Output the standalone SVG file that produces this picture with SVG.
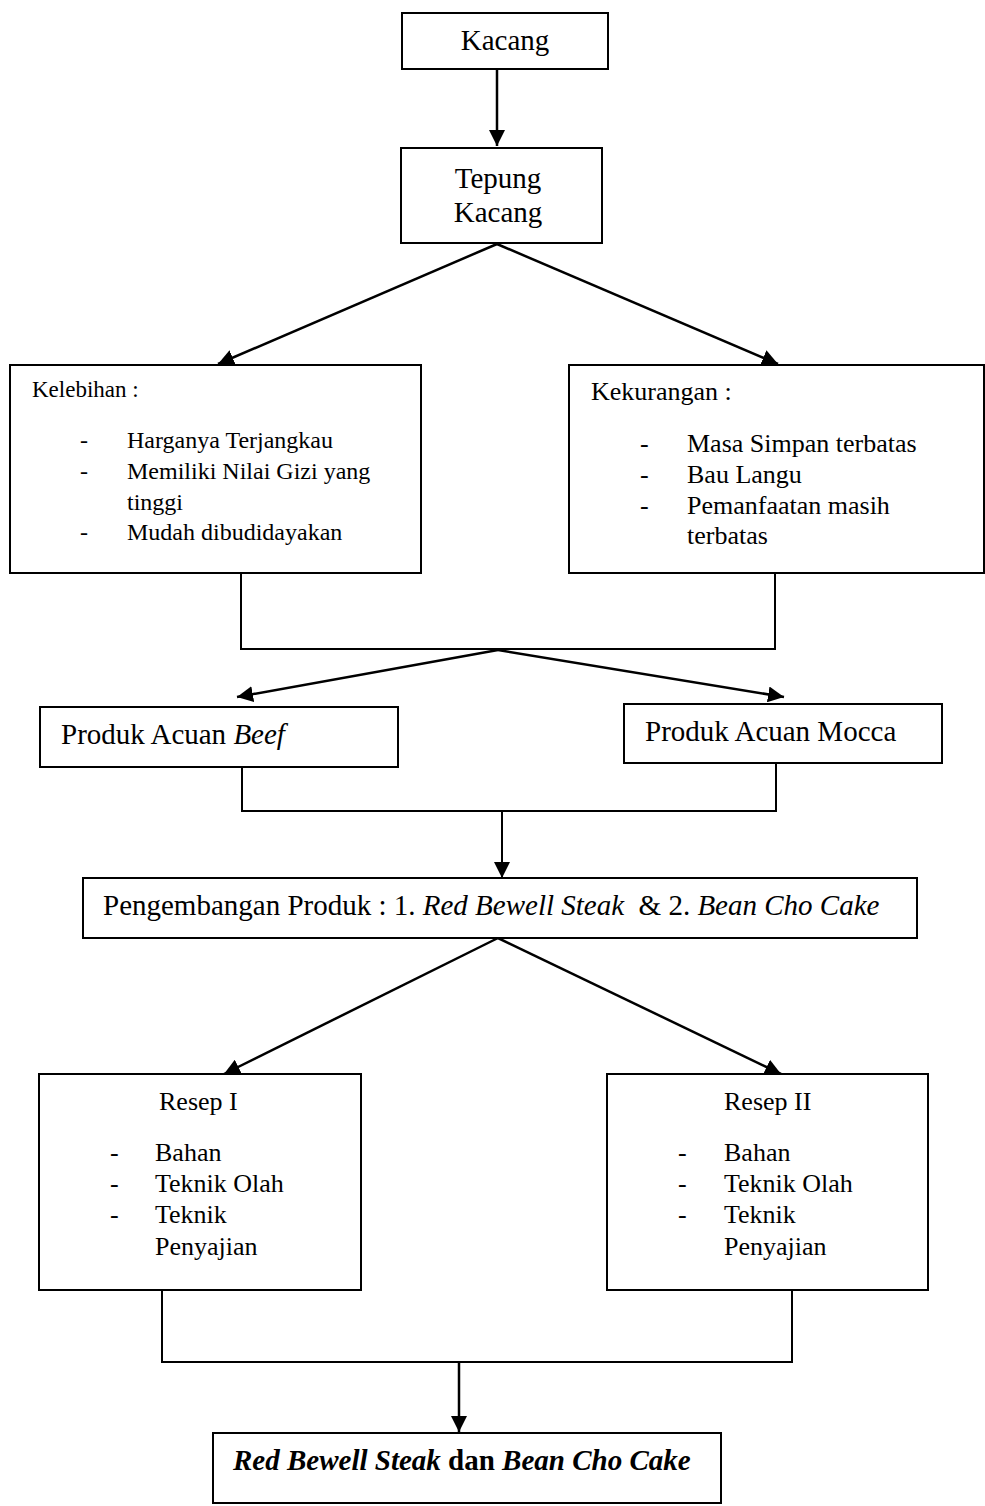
<svg xmlns="http://www.w3.org/2000/svg" width="985" height="1506" viewBox="0 0 985 1506">
<style>
text{font-family:"Liberation Serif","Times New Roman",serif;fill:#000}
.box{fill:#fff;stroke:#000;stroke-width:2}
.ln{fill:none;stroke:#000;stroke-width:2}
.ar{fill:none;stroke:#000;stroke-width:2.5}
.t29{font-size:29px}
.t26{font-size:26px}
.t24{font-size:24px}
.t23{font-size:23px}
.i{font-style:italic}
.b{font-weight:bold}
</style>
<defs>
<marker id="ah" markerUnits="userSpaceOnUse" markerWidth="16" markerHeight="16" viewBox="0 0 16 16" refX="16" refY="8" orient="auto">
<path d="M0,0 L16,8 L0,16 Z" fill="#000"/>
</marker>
</defs>
<g id="connectors">
<line class="ar" x1="497" y1="69" x2="497" y2="146" marker-end="url(#ah)"/>
<line class="ar" x1="497" y1="244" x2="218" y2="364" marker-end="url(#ah)"/>
<line class="ar" x1="497" y1="244" x2="778" y2="364" marker-end="url(#ah)"/>
<polyline class="ln" points="241,573 241,649 775,649 775,573"/>
<line class="ar" x1="498" y1="650" x2="237" y2="697" marker-end="url(#ah)"/>
<line class="ar" x1="498" y1="650" x2="784" y2="697" marker-end="url(#ah)"/>
<polyline class="ln" points="242,767 242,811 776,811 776,763"/>
<line class="ln" x1="502" y1="811" x2="502" y2="878" marker-end="url(#ah)"/>
<line class="ar" x1="498" y1="938" x2="224" y2="1074" marker-end="url(#ah)"/>
<line class="ar" x1="498" y1="938" x2="781" y2="1074" marker-end="url(#ah)"/>
<polyline class="ln" points="162,1290 162,1362 792,1362 792,1290"/>
<line class="ar" x1="459" y1="1362" x2="459" y2="1432" marker-end="url(#ah)"/>
</g>
<g id="kacang">
<rect class="box" x="402" y="13" width="206" height="56"/>
<text class="t29" x="505" y="50" text-anchor="middle">Kacang</text>
</g>
<g id="tepung">
<rect class="box" x="401" y="148" width="201" height="95"/>
<text class="t29" x="498" y="188" text-anchor="middle">Tepung</text>
<text class="t29" x="498" y="222" text-anchor="middle">Kacang</text>
</g>
<g id="kelebihan">
<rect class="box" x="10" y="365" width="411" height="208"/>
<text class="t23" x="32" y="397">Kelebihan :</text>
<text class="t24" x="80" y="448">-</text><text class="t24" x="127" y="448">Harganya Terjangkau</text>
<text class="t24" x="80" y="479">-</text><text class="t24" x="127" y="479">Memiliki Nilai Gizi yang</text>
<text class="t24" x="127" y="510">tinggi</text>
<text class="t24" x="80" y="540">-</text><text class="t24" x="127" y="540">Mudah dibudidayakan</text>
</g>
<g id="kekurangan">
<rect class="box" x="569" y="365" width="415" height="208"/>
<text class="t26" x="591" y="400">Kekurangan :</text>
<text class="t26" x="640" y="452">-</text><text class="t26" x="687" y="452">Masa Simpan terbatas</text>
<text class="t26" x="640" y="483">-</text><text class="t26" x="687" y="483">Bau Langu</text>
<text class="t26" x="640" y="514">-</text><text class="t26" x="687" y="514">Pemanfaatan masih</text>
<text class="t26" x="687" y="544">terbatas</text>
</g>
<g id="beef">
<rect class="box" x="40" y="707" width="358" height="60"/>
<text class="t29" x="61" y="744">Produk Acuan <tspan class="i">Beef</tspan></text>
</g>
<g id="mocca">
<rect class="box" x="624" y="704" width="318" height="59"/>
<text class="t29" x="645" y="741">Produk Acuan Mocca</text>
</g>
<g id="pengembangan">
<rect class="box" x="83" y="878" width="834" height="60"/>
<text class="t29" x="103" y="915" xml:space="preserve">Pengembangan Produk : 1. <tspan class="i">Red Bewell Steak</tspan>  &amp; 2. <tspan class="i">Bean Cho Cake</tspan></text>
</g>
<g id="resep1">
<rect class="box" x="39" y="1074" width="322" height="216"/>
<text class="t26" x="159" y="1110">Resep I</text>
<text class="t26" x="110" y="1161">-</text><text class="t26" x="155" y="1161">Bahan</text>
<text class="t26" x="110" y="1192">-</text><text class="t26" x="155" y="1192">Teknik Olah</text>
<text class="t26" x="110" y="1223">-</text><text class="t26" x="155" y="1223">Teknik</text>
<text class="t26" x="155" y="1255">Penyajian</text>
</g>
<g id="resep2">
<rect class="box" x="607" y="1074" width="321" height="216"/>
<text class="t26" x="724" y="1110">Resep II</text>
<text class="t26" x="678" y="1161">-</text><text class="t26" x="724" y="1161">Bahan</text>
<text class="t26" x="678" y="1192">-</text><text class="t26" x="724" y="1192">Teknik Olah</text>
<text class="t26" x="678" y="1223">-</text><text class="t26" x="724" y="1223">Teknik</text>
<text class="t26" x="724" y="1255">Penyajian</text>
</g>
<g id="hasil">
<rect class="box" x="213" y="1433" width="508" height="70"/>
<text class="t29 b" x="233" y="1470"><tspan class="i">Red Bewell Steak</tspan> dan <tspan class="i">Bean Cho Cake</tspan></text>
</g>
</svg>
